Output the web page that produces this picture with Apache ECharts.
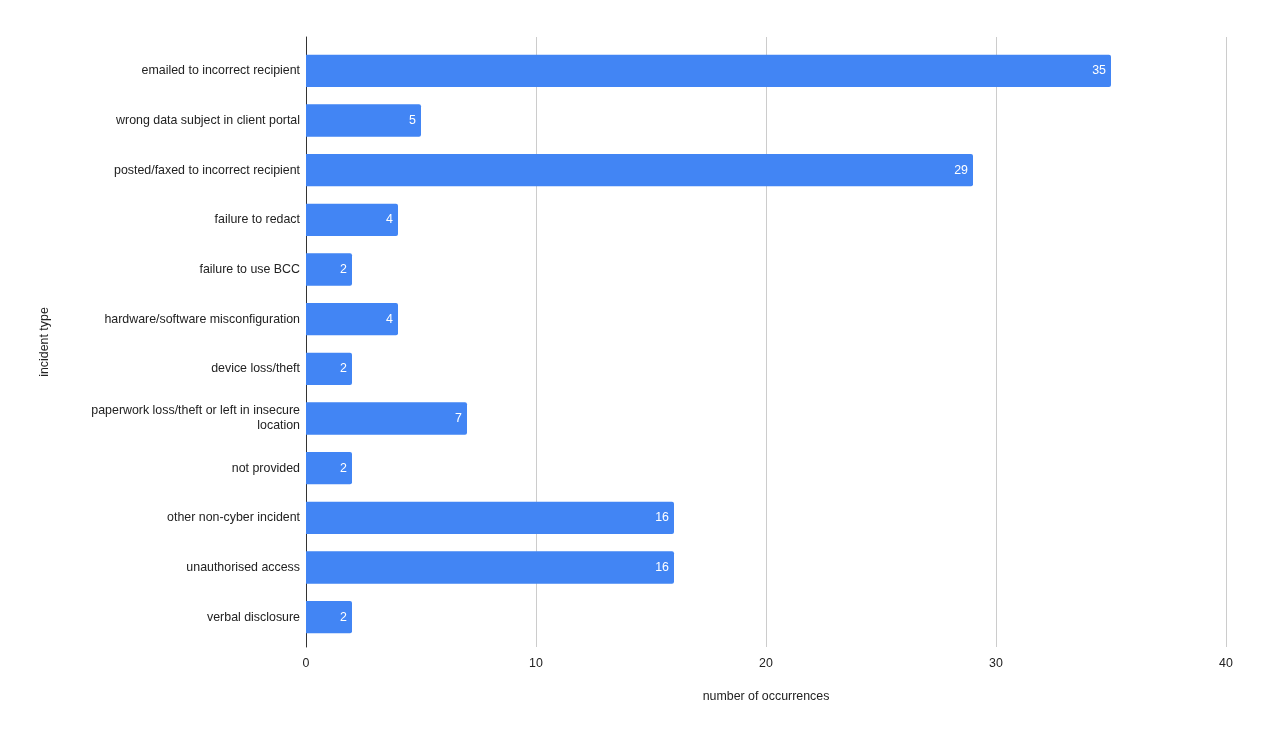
<!DOCTYPE html>
<html>
<head>
    <meta charset="utf-8">
    <title>incident types</title>
    <script src="https://cdn.jsdelivr.net/npm/echarts@6/dist/echarts.min.js"></script>
    <style>
        html, body { margin: 0; padding: 0; background: #fff; }
    </style>
</head>
<body>
<div id="main" style="width: 1263px;height:740px;"></div>
<script type="text/javascript">
    // categories, top to bottom
    var categories = [
        'emailed to incorrect recipient',
        'wrong data subject in client portal',
        'posted/faxed to incorrect recipient',
        'failure to redact',
        'failure to use BCC',
        'hardware/software misconfiguration',
        'device loss/theft',
        'paperwork loss/theft or left in insecure\nlocation',
        'not provided',
        'other non-cyber incident',
        'unauthorised access',
        'verbal disclosure'
    ];
    var occurrences = [35, 5, 29, 4, 2, 4, 2, 7, 2, 16, 16, 2];
    var xTicks = { min: 0, max: 40, step: 10 };

    var myChart = echarts.init(document.getElementById('main'));
    var fs = 12.4;

    // grid 0 holds the bars, grid 1 (a bit taller) holds gridlines and the axis line
    var option = {
        backgroundColor: '#ffffff',
        textStyle: { fontFamily: 'Arial, "Liberation Sans", sans-serif' },
        grid: [
            { left: 306, right: 37, top: 46, bottom: 98 },
            { left: 306, right: 37, top: 37, bottom: 93 }
        ],
        xAxis: [{
            gridIndex: 0,
            type: 'value',
            min: xTicks.min,
            max: xTicks.max,
            interval: xTicks.step,
            show: false
        }, {
            gridIndex: 1,
            type: 'value',
            min: xTicks.min,
            max: xTicks.max,
            interval: xTicks.step,
            name: 'number of occurrences',
            nameLocation: 'middle',
            nameGap: 44,
            nameTextStyle: { color: '#222', fontSize: fs },
            axisLine: { show: false },
            axisTick: { show: false },
            axisLabel: { color: '#222', fontSize: fs, margin: 11 },
            splitLine: { lineStyle: { color: '#cccccc', width: 1 } }
        }],
        yAxis: [{
            gridIndex: 0,
            type: 'category',
            data: categories,
            inverse: true,
            axisLine: { show: false },
            axisTick: { show: false },
            axisLabel: { color: '#222', fontSize: fs, margin: 6, align: 'right', lineHeight: 15 },
            splitLine: { show: false }
        }, {
            gridIndex: 1,
            type: 'value',
            min: 0,
            max: 1,
            name: 'incident type',
            nameLocation: 'middle',
            nameGap: 255,
            nameRotate: 90,
            nameTextStyle: { color: '#222', fontSize: fs },
            axisLine: { show: true, lineStyle: { color: '#333', width: 1 } },
            axisTick: { show: false },
            axisLabel: { show: false },
            splitLine: { show: false }
        }],
        series: [{
            type: 'bar',
            xAxisIndex: 0,
            yAxisIndex: 0,
            data: occurrences,
            barWidth: '65%',
            itemStyle: { color: '#4285f4', borderRadius: [0, 2, 2, 0] },
            label: {
                show: true,
                position: 'insideRight',
                color: '#ffffff',
                fontSize: fs,
                distance: 5
            }
        }]
    };

    myChart.setOption(option);
</script>
</body>
</html>
